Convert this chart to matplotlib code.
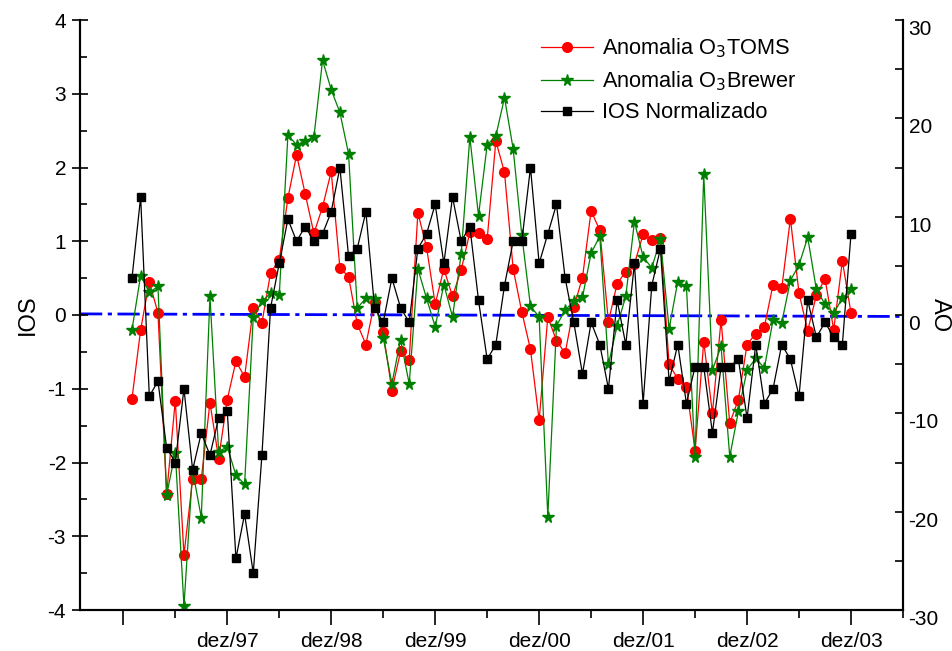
import numpy as np
import matplotlib
matplotlib.use('Agg')
import matplotlib.pyplot as plt

plt.rcParams['font.family'] = ['Liberation Sans', 'DejaVu Sans']
plt.rcParams['axes.unicode_minus'] = False

# meses contados a partir de dez/96 (1 = jan/97 ... 84 = dez/03)
meses = np.arange(1, 85)

ios = [0.5, 1.6, -1.1, -0.9, -1.8, -2.0, -1.0, -2.1, -1.6, -1.9, -1.4, -1.3,
       -3.3, -2.7, -3.5, -1.9, 0.1, 0.7, 1.3, 1.0, 1.2, 1.0, 1.1, 1.4,
       2.0, 0.8, 0.9, 1.4, 0.1, -0.1, 0.5, 0.1, -0.1, 0.9, 1.1, 1.5,
       0.7, 1.6, 1.0, 1.2, 0.2, -0.6, -0.4, 0.4, 1.0, 1.0, 2.0, 0.7,
       1.1, 1.5, 0.5, -0.1, -0.8, -0.1, -0.4, -1.0, 0.2, -0.4, 0.7, -1.2,
       0.4, 0.9, -0.9, -0.4, -1.2, -0.7, -0.7, -1.6, -0.7, -0.7, -0.6, -1.4,
       -0.4, -1.2, -1.0, -0.4, -0.6, -1.1, 0.2, -0.3, -0.1, -0.3, -0.4, 1.1]

toms = [-8.5, -1.5, 3.4, 0.2, -18.2, -8.7, -24.4, -16.7, -16.7, -8.9, -14.6, -8.6,
        -4.7, -6.3, 0.7, -0.8, 4.3, 5.6, 11.9, 16.3, 12.3, 8.3, 11.0, 14.6,
        4.8, 3.9, -0.9, -3.0, 1.3, -1.7, -7.7, -3.7, -4.6, 10.4, 6.9, 1.1,
        4.7, 1.9, 4.6, 8.4, 8.3, 7.7, 17.7, 14.5, 4.7, 0.3, -3.5, -10.7,
        -0.2, -2.6, -3.9, 0.8, 3.8, 10.6, 8.6, -0.7, 3.2, 4.4, 5.2, 8.2,
        7.6, 7.8, -5.0, -6.5, -7.3, -13.8, -2.7, -10.0, -0.5, -11.0, -8.6, -3.0,
        -1.9, -1.2, 3.1, 2.7, 9.8, 2.2, -1.6, 2.0, 3.7, -1.5, 5.5, 0.2]

brewer = [-1.5, 4.0, 2.3, 2.9, -18.3, -14.0, -29.6, -15.8, -20.6, 1.9, -13.9, -13.4,
          -16.3, -17.2, -0.2, 1.4, 2.2, 2.0, 18.3, 17.3, 17.7, 18.1, 25.9, 22.9,
          20.6, 16.4, 0.7, 1.7, 1.6, -2.3, -7.0, -2.5, -7.0, 4.7, 1.7, -1.2,
          3.1, -0.2, 6.2, 18.1, 10.1, 17.3, 18.2, 22.1, 16.9, 8.1, 0.9, -0.2,
          -20.5, -1.1, 0.5, 1.4, 1.8, 6.3, 8.0, -5.0, -1.1, 1.9, 9.5, 5.9,
          4.8, 7.7, -1.4, 3.4, 2.9, -14.4, 14.3, -5.6, -3.2, -14.4, -9.8, -5.6,
          -4.4, -5.4, -0.5, -0.8, 3.5, 5.1, 7.9, 2.6, 1.1, 0.2, 1.7, 2.6]

# reta tracejada azul (extremos)
reta_x = [-5, 90]
reta_y = [0.015, -0.02]

anos_ticks = [0, 12, 24, 36, 48, 60, 72, 84]
anos_rotulos = ['', 'dez/97', 'dez/98', 'dez/99', 'dez/00', 'dez/01', 'dez/02', 'dez/03']

fig = plt.figure(figsize=(9.53, 6.51), dpi=100)
ax = fig.add_axes([80/953, 41/651, 823/953, 590/651])
ax2 = ax.twinx()

ax.plot(reta_x, reta_y, color='#0000ff', lw=2, dashes=(8, 2, 1.5, 2), zorder=1)

l1, = ax2.plot(meses, toms, color='#ff0000', lw=0.9, marker='o', ms=7,
               mec='#ff0000', label='Anomalia O$_3$TOMS')
l2, = ax2.plot(meses, brewer, color='#008000', lw=0.9, marker='*', ms=8.5,
               mec='#008000', label='Anomalia O$_3$Brewer')
l3, = ax2.plot(meses, np.array(ios) * 7.5, color='black', lw=0.9, marker='s', ms=5.5,
               label='IOS Normalizado')

ax.set_xlim(-5, 90)
ax.set_ylim(-4, 4)
ax2.set_ylim(-30, 30)

ax.set_xticks(anos_ticks)
ax.set_xticklabels(anos_rotulos)
ax.set_xticks(np.arange(6, 91, 12), minor=True)
ax.tick_params(axis='x', which='major', direction='out', length=11, width=1.2,
               labelsize=15, pad=5)
ax.tick_params(axis='x', which='minor', direction='out', length=6, width=1.2)

ax.set_yticks(np.arange(-4, 5, 1))
ax.set_yticks(np.arange(-3.5, 4, 1), minor=True)
ax.tick_params(axis='y', which='major', direction='inout', length=12, width=1.2,
               labelsize=15, pad=4)
ax.tick_params(axis='y', which='minor', direction='in', length=5, width=1.2)

ax2.set_yticks(np.arange(-30, 31, 10))
ax2.set_yticks(np.arange(-25, 30, 10), minor=True)
ax2.tick_params(axis='y', which='major', direction='in', length=6, width=1.2,
                labelsize=15, pad=4)
ax2.tick_params(axis='y', which='minor', direction='in', length=6, width=1.2)
for t in ax2.get_yticklabels():
    t.set_va('top')

for a in (ax, ax2):
    a.spines['top'].set_visible(False)
    for s in ('left', 'right', 'bottom'):
        a.spines[s].set_linewidth(1.5)

ax.set_ylabel('IOS', fontsize=17, labelpad=6)
ax2.set_ylabel('AO', fontsize=17, rotation=270, va='center')
ax2.yaxis.set_label_coords(1.045, 0.5)

ax2.legend(handles=[l1, l2, l3], loc='upper left', bbox_to_anchor=(0.547, 0.99),
           frameon=False, fontsize=15.7, handlelength=2.4, handletextpad=0.4,
           labelspacing=0.42, borderpad=0)

fig.savefig('out.png', dpi=100)
